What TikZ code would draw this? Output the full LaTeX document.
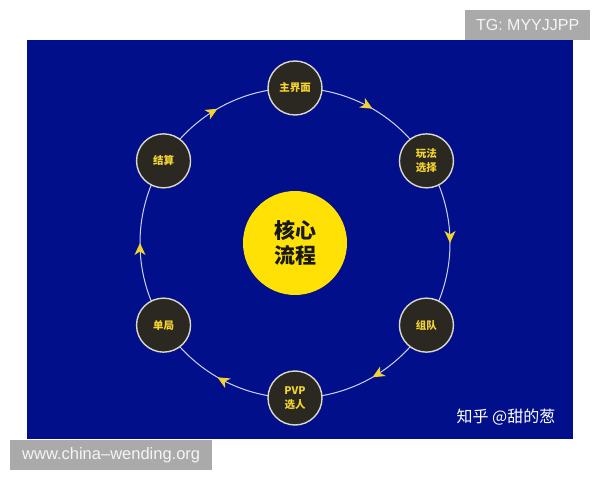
\documentclass[tikz,border=0pt]{standalone}
\usepackage{fontspec}
\setmainfont{Liberation Sans}
\newfontfamily\cjk{Noto Sans CJK SC}
\usetikzlibrary{arrows.meta,decorations.markings,calc}
\definecolor{navy}{RGB}{1,16,138}
\definecolor{nodefill}{RGB}{43,40,34}
\definecolor{nodeedge}{RGB}{220,216,200}
\definecolor{nodetext}{RGB}{244,212,46}
\definecolor{coreyellow}{RGB}{255,225,6}
\definecolor{ringcol}{RGB}{205,210,238}
\definecolor{arrowcol}{RGB}{240,210,48}
\definecolor{wmgray}{RGB}{170,170,170}
\tikzset{
  stepbox/.style={circle, draw=nodeedge, line width=1.4pt, fill=nodefill,
    minimum size=54pt, inner sep=0pt, text=nodetext, align=center,
    font=\cjk\bfseries\fontsize{10.5pt}{14pt}\selectfont},
  corebox/.style={circle, fill=coreyellow, minimum size=104pt, inner sep=0pt,
    text=black!90, align=center, font=\cjk\bfseries\fontsize{21pt}{25pt}\selectfont},
  ringline/.style={draw=ringcol, line width=1pt,
    decoration={markings,
      mark=between positions 0.0833 and 1 step 0.16667 with
        {\arrow{Stealth[length=12pt,width=11pt,inset=3.5pt,color=arrowcol]}}},
    postaction={decorate}},
  wmbox/.style={fill=wmgray, text=white!96!black, inner sep=0pt, anchor=north west},
}
\begin{document}
\begin{tikzpicture}
\useasboundingbox (0,0) rectangle (600pt,480pt);
\fill[white] (0,0) rectangle (600pt,480pt);
\fill[navy] (27pt,41pt) rectangle (573pt,440pt);
\coordinate (O) at (295pt,237pt);
\draw[ringline] ($(O)+(90:155pt)$) arc[start angle=90, end angle=-270, radius=155pt];
\node[corebox] (core) at (O) {核心\\流程};
\node[stepbox] (n1) at ($(O)+(90:155pt)$) {主界面};
\node[stepbox] (n2) at ($(O)+(32:155pt)$) {玩法\\选择};
\node[stepbox] (n3) at ($(O)+(-32:155pt)$) {组队};
\node[stepbox] (n4) at ($(O)+(-90:155pt)$) {PVP\\选人};
\node[stepbox] (n5) at ($(O)+(-148:155pt)$) {单局};
\node[stepbox] (n6) at ($(O)+(148:155pt)$) {结算};
\node[text=white, font=\cjk\fontsize{16pt}{18pt}\selectfont] (zh) at (506pt,63pt) {知乎 @甜的葱};
\node[wmbox, minimum width=125pt, minimum height=30pt] (tg) at (465pt,470pt) {};
\node[text=white!96!black, font=\fontsize{16pt}{18pt}\selectfont] (tgt) at (tg.center) {TG: MYYJJPP};
\node[wmbox, minimum width=202pt, minimum height=30pt] (url) at (10pt,40pt) {};
\node[text=white!96!black, font=\fontsize{16.5pt}{18pt}\selectfont] (urlt) at (url.center) {www.china{\char"2013}wending.org};
\end{tikzpicture}
\end{document}
